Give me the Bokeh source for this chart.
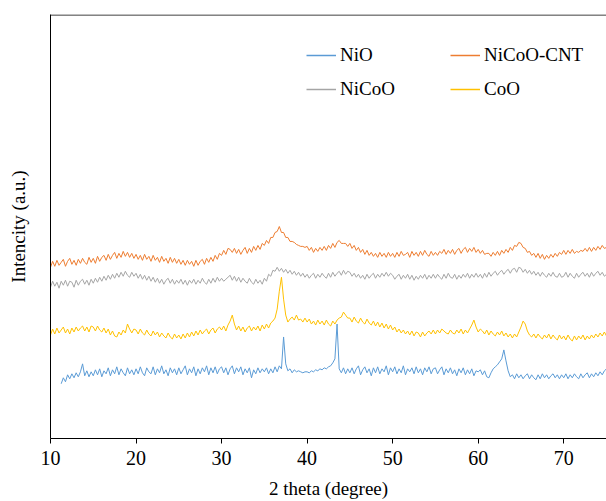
import numpy as np
from bokeh.plotting import figure
from bokeh.models import Range1d, FixedTicker, Span, Legend, LegendItem
from bokeh.embed import file_html
from bokeh.resources import INLINE

# 2-theta sampling grid (degrees), 0.25 degree step from 10 to 75
theta = [10 + 0.25 * i for i in range(261)]

x_ticks = [10, 20, 30, 40, 50, 60, 70]

# intensities (a.u., offset stacks)
nicoo_cnt = [
    172,178,173,179,174,177,180,173,178,181,175,179,174,180,176,181,177,175,182,177,
    181,176,183,178,182,184,179,185,180,184,187,181,186,182,188,183,187,182,186,181,
    185,180,184,179,185,180,183,178,184,179,182,177,183,178,181,176,182,177,181,176,
    180,175,179,174,179,175,178,173,179,174,178,180,175,181,177,182,178,184,180,186,
    184,189,185,191,190,187,191,186,190,185,189,192,186,191,187,193,189,194,190,196,
    194,199,196,202,202,207,208,213,207,207,202,202,198,198,197,195,194,193,193,192,
    193,189,192,187,191,188,192,189,193,189,194,191,196,192,197,199,196,196,196,193,
    196,191,194,189,192,187,190,185,189,184,187,183,186,182,187,183,186,182,187,183,
    186,182,187,183,188,184,185,187,182,188,184,187,183,188,184,189,185,183,188,184,
    187,184,188,186,190,185,189,186,190,185,189,191,186,190,192,187,191,188,192,187,
    190,186,189,185,186,186,183,187,184,188,184,189,186,190,187,192,189,194,193,197,
    196,192,191,187,188,184,186,182,186,181,185,180,184,181,185,182,186,183,187,185,
    189,185,189,186,190,186,188,187,189,188,191,188,192,188,192,189,193,190,194,191,
    192,
]

nicoo = [
    152,158,153,157,151,158,154,159,153,158,157,152,159,154,158,160,155,159,154,160,
    156,161,157,162,158,163,159,164,160,165,161,166,162,167,163,168,164,162,167,163,
    166,161,165,160,164,159,163,158,162,157,161,156,160,155,159,161,156,160,155,159,
    156,160,155,159,154,159,156,160,155,159,156,161,157,155,160,156,161,157,162,158,
    161,158,160,162,164,159,163,158,162,157,161,158,156,161,157,155,160,156,159,155,
    161,158,165,163,169,168,172,168,171,167,170,166,169,165,168,164,167,163,166,162,
    165,161,164,166,161,165,162,166,163,161,166,162,167,163,166,168,164,169,165,168,
    167,163,166,162,165,161,164,160,165,161,164,166,161,165,162,166,163,167,163,166,
    164,160,163,165,160,164,161,165,160,164,159,163,160,164,161,165,160,164,161,165,
    161,165,162,160,165,161,166,162,161,165,160,164,161,165,162,166,161,165,162,166,
    162,165,161,166,162,167,163,166,168,164,167,169,165,168,170,166,170,171,167,172,
    171,167,170,166,169,165,168,164,167,163,167,164,162,166,163,167,163,162,166,162,
    163,167,162,166,163,161,166,162,165,167,163,166,162,167,163,166,168,164,167,163,
    165,
]

coo = [
    104,110,105,111,106,109,112,106,110,105,111,107,112,108,111,113,108,112,107,113,
    112,108,113,109,107,111,106,110,104,108,103,102,107,104,109,106,115,110,106,110,
    109,105,110,106,104,109,105,103,108,104,107,102,106,103,101,106,102,100,105,101,
    104,100,105,101,106,102,107,103,108,104,109,105,108,110,105,109,111,106,110,112,
    109,113,108,114,118,124,115,109,113,108,112,107,111,113,108,112,109,113,108,114,
    110,115,111,116,118,121,130,148,162,140,124,117,120,122,119,124,119,120,117,121,
    117,120,115,118,114,119,115,118,114,119,115,113,118,115,119,121,122,127,124,121,
    121,117,122,118,116,121,117,115,120,116,114,118,113,117,112,116,111,115,110,114,
    109,112,107,110,106,109,105,108,104,108,103,107,106,102,107,103,106,108,105,109,
    105,109,106,110,108,106,105,109,106,105,109,106,110,105,109,106,110,114,119,112,
    107,110,108,105,109,104,108,105,103,107,104,108,103,106,102,105,101,105,102,107,
    112,118,115,108,104,102,105,101,105,102,100,104,101,105,100,104,101,99,104,100,
    103,99,104,100,98,103,99,103,100,104,99,103,100,104,101,105,102,106,103,107,
    103,
]

nio = [
    None,None,None,None,None,55,61,57,64,60,65,61,66,62,67,75,63,68,62,67,
    63,69,64,70,62,68,65,71,63,69,65,72,64,70,66,63,71,65,69,64,
    70,65,72,66,63,71,67,65,72,64,70,66,73,65,69,63,71,66,70,64,
    71,65,69,73,64,70,66,72,63,70,65,71,67,73,64,71,66,72,65,70,
    72,66,71,64,70,73,65,71,67,72,64,70,66,71,61,69,65,71,66,70,
    67,71,65,70,66,72,67,73,70,102,75,68,70,66,69,67,68,67,66,67,
    67,66,68,67,69,68,70,69,71,70,72,73,76,80,115,70,66,71,65,70,
    66,71,65,70,73,64,69,72,66,70,63,71,66,72,65,70,67,73,64,71,
    67,72,65,70,66,73,64,70,67,71,65,72,66,70,64,71,67,72,65,70,
    71,65,69,72,64,70,66,71,65,69,63,70,66,71,64,69,65,70,63,68,
    67,69,64,68,62,61,66,70,72,74,77,80,89,78,68,62,64,60,65,61,
    64,60,63,65,60,64,61,59,64,60,65,61,64,60,63,65,61,64,60,64,
    61,65,60,64,61,65,62,60,65,61,64,66,61,65,62,66,63,67,64,68,
    70,
]

for s in (nicoo_cnt, nicoo, coo, nio):
    assert len(s) == len(theta), len(s)

FONT = "Liberation Serif"
C_NIO, C_NICOO, C_COO, C_CNT = "#5B9BD5", "#A5A5A5", "#FFC000", "#ED7D31"

p = figure(width=606, height=501, output_backend="svg", toolbar_location=None,
           x_range=Range1d(10, 75), y_range=Range1d(0, 426),
           min_border_left=50, min_border_right=0, min_border_top=14, min_border_bottom=61)
p.outline_line_color = None
p.xgrid.visible = False
p.ygrid.visible = False
p.background_fill_color = "white"
p.border_fill_color = "white"

x = np.array(theta)
p.line(x, np.array(nio, dtype=float), line_color=C_NIO, line_width=1)
p.line(x, np.array(nicoo, dtype=float), line_color=C_NICOO, line_width=1)
p.line(x, np.array(coo, dtype=float), line_color=C_COO, line_width=1)
p.line(x, np.array(nicoo_cnt, dtype=float), line_color=C_CNT, line_width=1)

# legend swatches: helper renderers kept outside the visible x range
off_x = [0, 1]
off_y = [-10, -10]
k_nio = p.line(off_x, off_y, line_color=C_NIO, line_width=1.5)
k_nicoo = p.line(off_x, off_y, line_color=C_NICOO, line_width=1.5)
k_coo = p.line(off_x, off_y, line_color=C_COO, line_width=1.5)
k_cnt = p.line(off_x, off_y, line_color=C_CNT, line_width=1.5)

# top border of the plot box
p.add_layout(Span(location=425.5, dimension="width", line_color="black", line_width=1))

xa = p.xaxis[0]
xa.ticker = FixedTicker(ticks=x_ticks)
xa.axis_label = "2 theta (degree)"
xa.axis_label_text_font = FONT
xa.axis_label_text_font_size = "19px"
xa.axis_label_text_font_style = "normal"
xa.axis_label_text_color = "black"
xa.axis_label_standoff = 10
xa.major_label_text_font = FONT
xa.major_label_text_font_size = "20px"
xa.major_label_text_color = "black"
xa.major_label_standoff = 7
xa.major_tick_in = 0
xa.major_tick_out = 5
xa.minor_tick_line_color = None
xa.axis_line_color = "black"
xa.major_tick_line_color = "black"

ya = p.yaxis[0]
ya.ticker = FixedTicker(ticks=[])
ya.axis_label = "Intencity (a.u.)"
ya.axis_label_text_font = FONT
ya.axis_label_text_font_size = "19px"
ya.axis_label_text_font_style = "normal"
ya.axis_label_text_color = "black"
ya.axis_label_standoff = 22
ya.major_tick_line_color = None
ya.minor_tick_line_color = None
ya.axis_line_color = "black"

common = dict(border_line_color=None, background_fill_alpha=0, padding=0, margin=0,
              spacing=10, glyph_width=30, glyph_height=24, label_height=24,
              label_standoff=4, label_text_font=FONT, label_text_font_size="19px",
              label_text_color="black")
leg1 = Legend(items=[LegendItem(label="NiO", renderers=[k_nio]),
                     LegendItem(label="NiCoO", renderers=[k_nicoo])],
              location=(256, 337.5), **common)
leg2 = Legend(items=[LegendItem(label="NiCoO-CNT", renderers=[k_cnt]),
                     LegendItem(label="CoO", renderers=[k_coo])],
              location=(400, 337.5), **common)
p.add_layout(leg1)
p.add_layout(leg2)

open("out.html", "w").write(file_html(p, INLINE))
